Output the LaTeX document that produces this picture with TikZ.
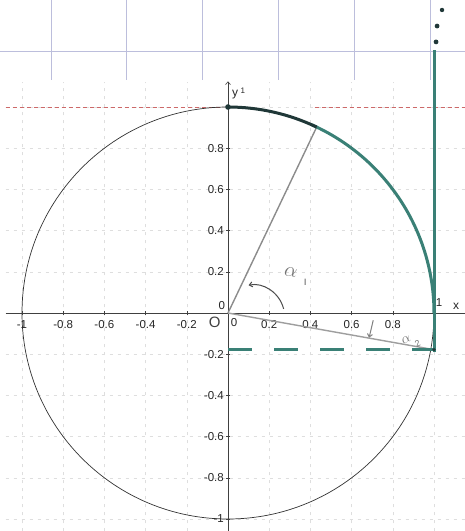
\documentclass[tikz,border=0pt]{standalone}
\usepackage{fontspec}
\setmainfont{Liberation Sans}
\usetikzlibrary{arrows.meta}
\definecolor{tealA}{RGB}{58,128,118}
\definecolor{tealD}{RGB}{32,56,56}
\definecolor{paperline}{RGB}{188,190,220}
\definecolor{reddash}{RGB}{205,105,105}
\begin{document}
\begin{tikzpicture}[x=1pt,y=-1pt,
  ticklab/.style={font=\fontsize{11.5}{11.5}\selectfont, text=black!85, inner sep=0pt},
  axislab/.style={font=\fontsize{12}{12}\selectfont, text=black!85, inner sep=0pt},
  hand/.style={text=black!55, inner sep=0pt},
  faintgrid/.style={black!13, dash pattern=on 3pt off 5pt, line width=0.4pt},
  tealstroke/.style={tealA, line width=3pt},
  greyray/.style={black!45, line width=1.4pt}]
\useasboundingbox (0,0) rectangle (465,531);
\fill[white] (0,0) rectangle (465,531);
% notebook paper grid
\draw[paperline, line width=0.8pt] (0,51) -- (465,51);
\foreach \x in {51,126,202,278,354,430} \draw[paperline, line width=0.8pt] (\x,0) -- (\x,80);
\begin{scope}[shift={(228,313)}, x=206pt, y=206pt]
  % faint grid
  \foreach \v in {-1,-0.8,-0.6,-0.4,-0.2,0.2,0.4,0.6,0.8,1} {
    \draw[faintgrid] (\v,-1.06) -- (\v,1.12);
    \draw[faintgrid] (-1.08,\v) -- (1.15,\v);
  }
  % red dashed line y = 1
  \draw[reddash, dash pattern=on 4pt off 3pt, line width=0.6pt] (-1.08,1) -- (-0.03,1);
  \draw[reddash, dash pattern=on 4pt off 3pt, line width=0.6pt] (0.42,1) -- (1.15,1);
  % unit circle
  \draw[black!80, line width=0.7pt] (0,0) circle (1);
  % axes
  \coordinate (O) at (0,0);
  \coordinate (xl) at (-1.08,0);
  \coordinate (xr) at (1.15,0);
  \coordinate (yb) at (0,-1.06);
  \coordinate (yt) at (0,1.125);
  \draw[black!75, line width=0.6pt] (xl) -- (xr);
  \draw[black!75, line width=0.6pt, -{Straight Barb[length=3pt,width=5pt]}] (yb) -- (yt);
  % ticks and labels
  \foreach \v/\n in {-1/xa,-0.8/xb,-0.6/xc,-0.4/xd,-0.2/xe,0.2/xf,0.4/xg,0.6/xh,0.8/xi} {
    \draw[black!75, line width=0.5pt] (\v,-0.012) -- (\v,0.012);
    \node[ticklab, anchor=north] (\n) at ([yshift=-7pt]\v,0) {\v};
  }
  \foreach \v/\n in {0.8/ya,0.6/yb,0.4/yc,0.2/yd,-0.2/ye,-0.4/yf,-0.6/yg,-0.8/yh,-1/yi} {
    \draw[black!75, line width=0.5pt] (-0.012,\v) -- (0.012,\v);
    \node[ticklab, anchor=east] (\n) at ([xshift=-4pt]0,\v) {\v};
  }
  \node[ticklab] (y0) at (-0.03,0.035) {0};
  \node[ticklab] (x0) at (0.03,-0.048) {0};
  \node[font=\fontsize{15}{15}\selectfont, text=black!75, inner sep=0pt] (Olab) at (-0.064,-0.045) {O};
  \node[axislab] (ylab) at (0.034,1.058) {y};
  \node[ticklab, font=\fontsize{8}{8}\selectfont] (y1) at (0.072,1.08) {1};
  \node[axislab] (xlab) at (1.107,0.032) {x};
  \node[ticklab] (x1) at (1.025,0.052) {1};
  % points
  \coordinate (T) at (0,1);
  \coordinate (P1) at (64.5:1);
  \coordinate (E) at (1,0);
  \coordinate (Q) at (1.0,-0.178);
  \coordinate (V1) at (1.0,-0.19);
  \coordinate (V2) at (1.0,1.277);
  \coordinate (H0) at (0.0,-0.175);
  \coordinate (H1) at (1.0,-0.175);
  % grey rays
  \draw[greyray] (O) -- (P1);
  \draw[greyray, black!38] (O) -- (Q);
  % teal dashed horizontal
  \draw[tealA, line width=3pt, dash pattern=on 24pt off 22pt] (H0) -- (H1);
  % teal arc and vertical line
  \draw[tealstroke] (E) arc (0:66:1);
  \draw[tealD, line width=3pt] (P1) arc (64.5:90:1);
  \draw[tealstroke] (V1) -- (V2);
  \fill[tealD] (T) circle (2.8pt);
  \fill[tealD] (Q) circle (1.8pt);
  \fill[tealD] (1.039,1.471) circle (2.2pt);
  \fill[tealD] (1.015,1.393) circle (2.4pt);
  \fill[tealD] (1.01,1.316) circle (2.4pt);
  % handwritten annotations
  \coordinate (a0) at (0.27,0.02);
  \coordinate (a1) at (0.1,0.135);
  \draw[black!70, line width=1pt, -{Straight Barb[length=3pt,width=5pt]}] (a0) .. controls (0.25,0.1) and (0.17,0.15) .. (a1);
  \node[hand, font=\fontsize{22}{22}\selectfont, rotate=-10] (alpha1) at (0.305,0.2) {$\alpha$};
  \node[hand, font=\fontsize{12}{12}\selectfont] (sub1) at (0.375,0.15) {\i};
  \coordinate (b0) at (0.705,-0.035);
  \coordinate (b1) at (0.685,-0.12);
  \draw[black!50, line width=1pt, -{Straight Barb[length=3pt,width=5pt]}] (b0) -- (b1);
  \node[hand, font=\fontsize{15}{15}\selectfont, rotate=25] (alpha2) at (0.865,-0.128) {$\alpha$};
  \node[hand, font=\fontsize{9}{9}\selectfont, rotate=25] (sub2) at (0.92,-0.15) {2};
\end{scope}
\end{tikzpicture}
\end{document}
